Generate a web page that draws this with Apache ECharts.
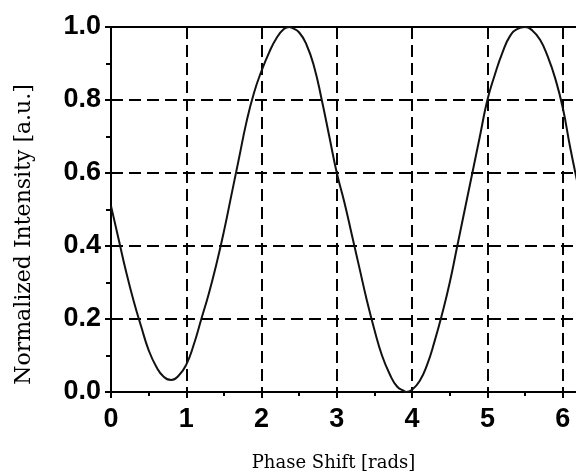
<!DOCTYPE html>
<html>
<head>
<meta charset="utf-8">
<script src="https://cdn.jsdelivr.net/npm/echarts@6/dist/echarts.min.js"></script>
<style>
html,body{margin:0;padding:0;background:#fff;}
#chart{width:576px;height:475px;}
</style>
</head>
<body>
<div id="chart"></div>
<script>
// Phase shift (rads)
var phase = [0.0,0.1,0.2,0.3,0.4,0.5,0.6,0.7,0.8,0.9,1.0,1.1,1.2,1.3,1.4,1.5,1.6,1.7,1.8,1.9,2.0,2.1,2.2,2.3,2.37,2.4,2.5,2.6,2.7,2.8,2.9,3.0,3.1,3.2,3.3,3.4,3.5,3.6,3.7,3.8,3.9,3.92,4.0,4.1,4.2,4.3,4.4,4.5,4.6,4.7,4.8,4.9,5.0,5.1,5.2,5.3,5.4,5.5,5.6,5.7,5.8,5.9,6.0,6.1,6.2];
// Normalized intensity (a.u.)
var intensity = [0.51,0.42,0.33,0.25,0.18,0.115,0.07,0.042,0.033,0.045,0.075,0.13,0.20,0.27,0.35,0.44,0.54,0.64,0.74,0.82,0.88,0.93,0.97,0.995,1.0,0.998,0.985,0.95,0.89,0.80,0.70,0.60,0.52,0.43,0.34,0.25,0.17,0.10,0.05,0.015,0.002,0.0,0.006,0.03,0.075,0.14,0.215,0.30,0.40,0.50,0.60,0.70,0.80,0.87,0.93,0.975,0.995,1.0,0.99,0.965,0.92,0.86,0.78,0.67,0.57];
var xTicks = [0,1,2,3,4,5,6];
var yTicks = [0.0,0.2,0.4,0.6,0.8,1.0];
var xTitle = 'Phase Shift [rads]';
var yTitle = 'Normalized Intensity [a.u.]';

var pts = phase.map(function(x,i){return [x,intensity[i]];});
var chart = echarts.init(document.getElementById('chart'), null, {renderer:'canvas'});
var dash = {color:'#000', width:2, type:[12,6]};
var tickStyle = {color:'#000', width:2};
chart.setOption({
  animation:false,
  backgroundColor:'#fff',
  grid:{left:111, top:27, width:475, height:365, containLabel:false, outerBoundsMode:'none'},
  xAxis:[{
    type:'value', min:xTicks[0], max:6.31, interval:1,
    name:xTitle, nameLocation:'middle', nameGap:62,
    nameTextStyle:{fontFamily:'DejaVu Serif', fontSize:18, color:'#000', padding:[0,30,0,0]},
    axisLine:{show:true, onZero:false, lineStyle:tickStyle},
    axisTick:{show:true, inside:false, length:6, lineStyle:tickStyle},
    minorTick:{show:true, splitNumber:2, length:4, lineStyle:tickStyle},
    axisLabel:{show:true, showMaxLabel:false, margin:14, fontFamily:'Liberation Sans', fontWeight:'bold', fontSize:27, color:'#000',
      formatter:function(v){return xTicks.indexOf(v)>=0 ? String(v) : '';}},
    splitLine:{show:true, lineStyle:dash}
  },{
    type:'value', position:'top', min:xTicks[0], max:6.31,
    axisLine:{show:true, onZero:false, lineStyle:tickStyle},
    axisTick:{show:false}, axisLabel:{show:false}, splitLine:{show:false}
  }],
  yAxis:{
    type:'value', min:yTicks[0], max:yTicks[yTicks.length-1], interval:0.2,
    name:yTitle, nameLocation:'middle', nameGap:76, nameRotate:90,
    nameTextStyle:{fontFamily:'DejaVu Serif', fontSize:22, color:'#000', padding:[0,50,0,0]},
    axisLine:{show:true, lineStyle:tickStyle},
    axisTick:{show:true, inside:false, length:6, lineStyle:tickStyle},
    minorTick:{show:true, splitNumber:2, length:5, lineStyle:tickStyle},
    axisLabel:{show:true, margin:10, fontFamily:'Liberation Sans', fontWeight:'bold', fontSize:27, color:'#000',
      formatter:function(v){return v.toFixed(1);}},
    splitLine:{show:true, lineStyle:dash}
  },
  series:[{
    type:'line', data:pts, xAxisIndex:0, showSymbol:false, smooth:true, clip:true,
    lineStyle:{color:'#111', width:2}
  }]
});
</script>
</body>
</html>
